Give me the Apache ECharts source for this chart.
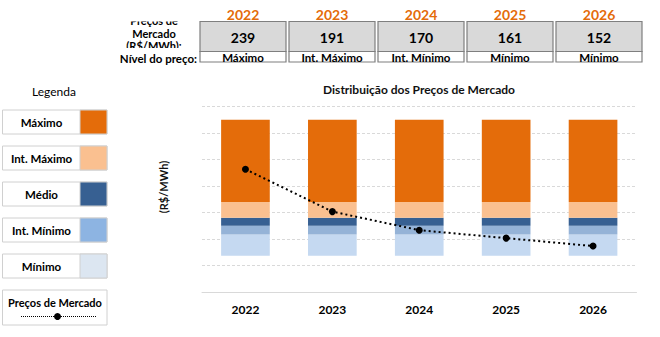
<!DOCTYPE html>
<html>
<head>
<meta charset="utf-8">
<script src="https://cdn.jsdelivr.net/npm/echarts@6/dist/echarts.min.js"></script>
<style>
html,body{margin:0;padding:0;background:#fff;}
#c{width:660px;height:337px;}
</style>
</head>
<body>
<div id="c"></div>
<script>
// ---- data ----
const years = ['2022', '2023', '2024', '2025', '2026'];
const marketPrices = [239, 191, 170, 161, 152];
const priceLevels = ['Máximo', 'Int. Máximo', 'Int. Mínimo', 'Mínimo', 'Mínimo'];
// distribution bands (R$/MWh): floor and band thicknesses, bottom to top
const bandFloor = [141, 141, 141, 141, 141];
const bandMinimo = [24, 24, 24, 24, 24];
const bandIntMinimo = [10, 10, 10, 10, 10];
const bandMedio = [9, 9, 9, 9, 9];
const bandIntMaximo = [18, 18, 18, 18, 18];
const bandMaximo = [93, 93, 93, 93, 93];
const yMin = 100, yMax = 310, yStep = 30;

const legendItems = ['Máximo', 'Int. Máximo', 'Médio', 'Int. Mínimo', 'Mínimo'];

// ---- styles ----
const barColors = {
  'Máximo': '#E46C0A', 'Int. Máximo': '#FAC090', 'Médio': '#376092',
  'Int. Mínimo': '#95B3D7', 'Mínimo': '#C5D9F1'
};
const swatchColors = {
  'Máximo': '#E46C0A', 'Int. Máximo': '#FAC090', 'Médio': '#376092',
  'Int. Mínimo': '#8DB4E2', 'Mínimo': '#DCE6F1'
};
const F = 'Lato, "Liberation Sans", sans-serif';

const chart = echarts.init(document.getElementById('c'), null, {renderer: 'svg'});

const graphic = [];
// title
graphic.push({type: 'text', x: 419, y: 89.5, style: {text: 'Distribuição dos Preços de Mercado', font: 'bold 12px ' + F, fill: '#111', textAlign: 'center', textVerticalAlign: 'middle'}});
// y axis name
graphic.push({type: 'text', x: 163, y: 187, rotation: Math.PI / 2, style: {text: '(R$/MWh)', font: 'bold 11px ' + F, fill: '#111', textAlign: 'center', textVerticalAlign: 'middle'}});

// top table: row header (clipped by its cell in the reference)
graphic.push({type: 'text', x: 154, y: 33.3, z: 1, style: {text: 'Preços de\nMercado\n(R$/MWh):', font: 'bold 11px ' + F, lineHeight: 12.5, fill: '#000', textAlign: 'center', textVerticalAlign: 'middle'}});
graphic.push({type: 'rect', z: 2, shape: {x: 100, y: 0, width: 98, height: 21.5}, style: {fill: '#fff'}});
graphic.push({type: 'rect', z: 2, shape: {x: 100, y: 48, width: 98, height: 4}, style: {fill: '#fff'}});
graphic.push({type: 'text', x: 197, y: 58.3, z: 3, style: {text: 'Nível do preço:', font: 'bold 11.5px ' + F, lineHeight: 9, fill: '#000', textAlign: 'right', textVerticalAlign: 'middle'}});
years.forEach((yr, i) => {
  const x0 = 200 + 89 * i;
  graphic.push({type: 'text', x: x0 + 43, y: 14.5, z: 3, style: {text: yr, font: 'bold 14px ' + F, fill: '#E46C0A', textAlign: 'center', textVerticalAlign: 'middle'}});
  graphic.push({type: 'rect', z: 3, shape: {x: x0, y: 21.5, width: 86, height: 30}, style: {fill: '#D9D9D9', stroke: '#7F7F7F', lineWidth: 1.2}});
  graphic.push({type: 'text', x: x0 + 43, y: 37, z: 4, style: {text: String(marketPrices[i]), font: 'bold 14px ' + F, fill: '#000', textAlign: 'center', textVerticalAlign: 'middle'}});
  graphic.push({type: 'rect', z: 3, shape: {x: x0, y: 51.5, width: 86, height: 10.5}, style: {fill: '#fff', stroke: '#7F7F7F', lineWidth: 1.2}});
  graphic.push({type: 'text', x: x0 + 43, y: 57, z: 4, style: {text: priceLevels[i], font: 'bold 11.5px ' + F, lineHeight: 9, fill: '#000', textAlign: 'center', textVerticalAlign: 'middle'}});
});

// legend panel
graphic.push({type: 'text', x: 54, y: 91, style: {text: 'Legenda', font: '12px ' + F, fill: '#000', textAlign: 'center', textVerticalAlign: 'middle'}});
legendItems.forEach((name, i) => {
  const y0 = 110 + 36 * i;
  graphic.push({type: 'rect', shape: {x: 2.5, y: y0, width: 104.5, height: 24}, style: {fill: '#fff', stroke: '#D0D0D0', lineWidth: 1}});
  graphic.push({type: 'rect', shape: {x: 80, y: y0, width: 27, height: 24}, style: {fill: swatchColors[name], stroke: '#D0D0D0', lineWidth: 1}});
  graphic.push({type: 'text', x: 41.5, y: y0 + 12.5, style: {text: name, font: 'bold 11.5px ' + F, fill: '#000', textAlign: 'center', textVerticalAlign: 'middle'}});
});
graphic.push({type: 'rect', shape: {x: 2.5, y: 290, width: 104.5, height: 35}, style: {fill: '#fff', stroke: '#D0D0D0', lineWidth: 1}});
graphic.push({type: 'text', x: 55, y: 302, style: {text: 'Preços de Mercado', font: 'bold 11px ' + F, fill: '#000', textAlign: 'center', textVerticalAlign: 'middle'}});
graphic.push({type: 'line', shape: {x1: 21, y1: 316.5, x2: 97, y2: 316.5}, style: {stroke: '#000', lineWidth: 1, lineDash: [1, 1]}});
graphic.push({type: 'circle', shape: {cx: 57.5, cy: 316.5, r: 3.5}, style: {fill: '#000'}});

function band(name, data) {
  return {
    name: name, type: 'bar', stack: 'dist', data: data, barWidth: '56%',
    itemStyle: {color: barColors[name]}, emphasis: {disabled: true}, silent: true
  };
}

chart.setOption({
  animation: false,
  backgroundColor: '#fff',
  graphic: graphic,
  grid: {left: 202, right: 23.5, top: 106.5, bottom: 45},
  xAxis: {
    type: 'category', data: years,
    axisTick: {show: false},
    axisLine: {lineStyle: {color: '#D9D9D9', width: 1}},
    axisLabel: {color: '#000', fontWeight: 'bold', fontSize: 12, fontFamily: F, margin: 11}
  },
  yAxis: {
    type: 'value', min: yMin, max: yMax, interval: yStep,
    axisLabel: {show: false}, axisLine: {show: false}, axisTick: {show: false},
    splitLine: {lineStyle: {color: '#D9D9D9', width: 1, type: [3, 2]}}
  },
  series: [
    {name: 'base', type: 'bar', stack: 'dist', data: bandFloor, barWidth: '56%', itemStyle: {color: 'rgba(0,0,0,0)'}, silent: true},
    band('Mínimo', bandMinimo),
    band('Int. Mínimo', bandIntMinimo),
    band('Médio', bandMedio),
    band('Int. Máximo', bandIntMaximo),
    band('Máximo', bandMaximo),
    {
      name: 'Preços de Mercado', type: 'line', data: marketPrices, z: 5,
      symbol: 'circle', symbolSize: 7, showSymbol: true,
      itemStyle: {color: '#000'},
      lineStyle: {color: '#000', width: 2, type: [2, 3]}
    }
  ]
});
</script>
</body>
</html>
